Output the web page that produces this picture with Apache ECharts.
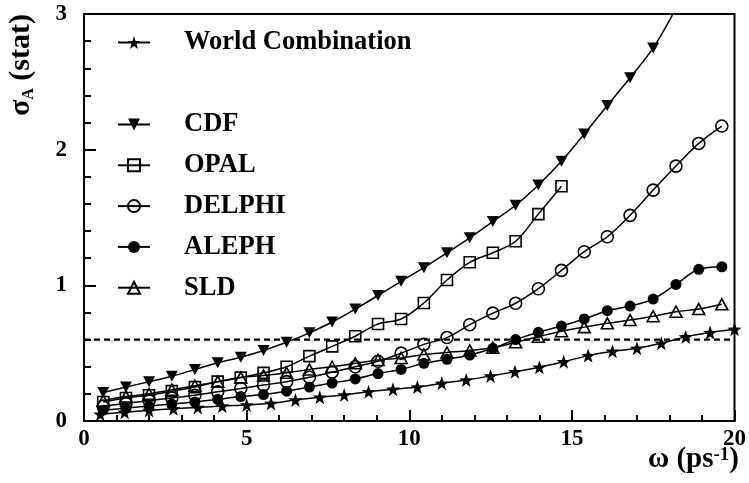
<!DOCTYPE html>
<html><head><meta charset="utf-8">
<script src="https://cdn.jsdelivr.net/npm/echarts@6/dist/echarts.min.js"></script>
<style>html,body{margin:0;padding:0;background:#fff}#c{width:749px;height:483px}</style>
</head><body><div id="c"></div>
<script>
const omega = [0.59, 1.29, 2.0, 2.7, 3.41, 4.11, 4.82, 5.52, 6.23, 6.93, 7.63, 8.34, 9.04, 9.75, 10.45, 11.16, 11.86, 12.57, 13.27, 13.97, 14.68, 15.38, 16.09, 16.79, 17.5, 18.2, 18.9, 19.61];
const omegaWorld = [0.5, 1.25, 2.0, 2.75, 3.5, 4.25, 5.0, 5.75, 6.5, 7.25, 8.0, 8.75, 9.5, 10.25, 11.0, 11.75, 12.5, 13.25, 14.0, 14.75, 15.5, 16.25, 17.0, 17.75, 18.5, 19.25, 20.0];
const worldSigma = [0.05, 0.065, 0.078, 0.09, 0.10, 0.11, 0.118, 0.13, 0.155, 0.175, 0.192, 0.216, 0.234, 0.25, 0.278, 0.302, 0.332, 0.363, 0.396, 0.437, 0.482, 0.514, 0.536, 0.573, 0.62, 0.652, 0.676];
const cdfSigma = [0.21, 0.25, 0.29, 0.33, 0.38, 0.43, 0.47, 0.52, 0.58, 0.65, 0.73, 0.825, 0.925, 1.03, 1.13, 1.24, 1.35, 1.47, 1.59, 1.74, 1.915, 2.115, 2.325, 2.53, 2.75, 3.04, 3.35];
const opalSigma = [0.14, 0.17, 0.19, 0.22, 0.25, 0.29, 0.32, 0.355, 0.40, 0.478, 0.55, 0.625, 0.715, 0.752, 0.87, 1.039, 1.17, 1.24, 1.325, 1.525, 1.73];
const delphiSigma = [0.11, 0.13, 0.15, 0.17, 0.19, 0.215, 0.24, 0.265, 0.29, 0.322, 0.36, 0.40, 0.44, 0.50, 0.565, 0.615, 0.71, 0.795, 0.868, 0.975, 1.11, 1.248, 1.358, 1.516, 1.702, 1.879, 2.046, 2.174];
const alephSigma = [0.08, 0.095, 0.11, 0.125, 0.14, 0.16, 0.18, 0.195, 0.22, 0.25, 0.28, 0.31, 0.35, 0.38, 0.425, 0.455, 0.486, 0.536, 0.60, 0.654, 0.70, 0.752, 0.813, 0.847, 0.899, 1.007, 1.118, 1.137];
const sldSigma = [0.15, 0.18, 0.20, 0.23, 0.26, 0.29, 0.32, 0.335, 0.355, 0.38, 0.40, 0.425, 0.45, 0.465, 0.49, 0.505, 0.52, 0.54, 0.58, 0.621, 0.662, 0.692, 0.72, 0.744, 0.772, 0.806, 0.825, 0.86];
const xTickLabels = ['0', '5', '10', '15', '20'];
const yTickLabels = ['0', '1', '2', '3'];
const thresholdRange = [0, 20];
const thresholdLevel = 0.6;
const seriesNames = ['World Combination', 'CDF', 'OPAL', 'DELPHI', 'ALEPH', 'SLD'];

const FONT = "'Liberation Serif', 'Times New Roman', serif";
const STAR = 'path://M0,-10 L2.35,-3.24 L9.51,-3.09 L3.8,1.24 L5.88,8.09 L0,4 L-5.88,8.09 L-3.8,1.24 L-9.51,-3.09 L-2.35,-3.24 Z';
const zip = (xs, ys) => ys.map((y, i) => [xs[i], y]);

function mk(name, xs, ys, symbol, size, filled, rotate) {
  return {
    name, type: 'line', data: zip(xs, ys), smooth: 0.35,
    symbol, symbolSize: size, symbolRotate: rotate || 0, showAllSymbol: true,
    lineStyle: {color: '#000', width: 1.5},
    itemStyle: {color: filled ? '#000' : 'rgba(0,0,0,0)', borderColor: '#000', borderWidth: filled ? 0 : 1.6},
    emphasis: {disabled: true}, z: 3
  };
}

const chart = echarts.init(document.getElementById('c'));
const legendText = {fontFamily: FONT, fontWeight: 'bold', fontSize: 26.5, lineHeight: 26, color: '#000', padding: [0, 0, 0, 29]};
chart.setOption({
  animation: false,
  backgroundColor: '#fff',
  grid: {left: 84, right: 12, top: 14, bottom: 62, show: true, borderColor: '#000', borderWidth: 2, backgroundColor: 'rgba(0,0,0,0)'},
  xAxis: {
    type: 'value', min: 0, max: 20, interval: 5,
    axisLine: {lineStyle: {color: '#000', width: 2}},
    axisTick: {inside: true, length: 11, lineStyle: {color: '#000', width: 2}},
    minorTick: {show: true, splitNumber: 5, length: 6, lineStyle: {color: '#000', width: 2}},
    splitLine: {show: false},
    axisLabel: {margin: 7, fontFamily: FONT, fontWeight: 'bold', fontSize: 23, color: '#000',
      formatter: v => xTickLabels[Math.round(v / 5)]}
  },
  yAxis: {
    type: 'value', min: 0, max: 3, interval: 1,
    axisLine: {show: true, lineStyle: {color: '#000', width: 2}},
    axisTick: {show: true, inside: true, length: 12, lineStyle: {color: '#000', width: 2}},
    minorTick: {show: true, splitNumber: 5, length: 7, lineStyle: {color: '#000', width: 2}},
    splitLine: {show: false},
    axisLabel: {margin: 17, fontFamily: FONT, fontWeight: 'bold', fontSize: 23, color: '#000',
      formatter: v => yTickLabels[Math.round(v)]}
  },
  legend: [
    {data: [seriesNames[0]], left: 117, top: 29, padding: 0, itemWidth: 32, itemHeight: 16,
      textStyle: legendText, selectedMode: false},
    {data: seriesNames.slice(1), orient: 'vertical', left: 117, top: 111, padding: 0, itemGap: 13.8,
      itemWidth: 32, itemHeight: 15, textStyle: legendText, selectedMode: false}
  ],
  graphic: [
    {type: 'text', x: 21, y: 65, rotation: Math.PI / 2,
      style: {text: '{m|σ}{s|A}{m| (stat)}', align: 'center', verticalAlign: 'middle',
        rich: {
          m: {fontFamily: FONT, fontWeight: 'bold', fontSize: 30, lineHeight: 30, verticalAlign: 'top', fill: '#000'},
          s: {fontFamily: FONT, fontWeight: 'bold', fontSize: 16, lineHeight: 16, padding: [15, 0, 0, 0], verticalAlign: 'top', fill: '#000'}
        }}},
    {type: 'text', x: 739, y: 460,
      style: {text: '{m|ω (ps}{s|-1}{m|)}', align: 'right', verticalAlign: 'middle',
        rich: {
          m: {fontFamily: FONT, fontWeight: 'bold', fontSize: 29, lineHeight: 29, verticalAlign: 'bottom', fill: '#000'},
          s: {fontFamily: FONT, fontWeight: 'bold', fontSize: 19, lineHeight: 19, padding: [0, 0, 17, 0], verticalAlign: 'top', fill: '#000'}
        }}}
  ],
  series: [
    {name: 'threshold', type: 'line', data: thresholdRange.map(x => [x, thresholdLevel]), symbol: 'none',
      lineStyle: {color: '#000', width: 2.2, type: [6, 4]}, silent: true, z: 2},
    mk(seriesNames[0], omegaWorld, worldSigma, STAR, 14, true),
    mk(seriesNames[1], omega, cdfSigma, 'triangle', [12, 11], true, 180),
    mk(seriesNames[2], omega, opalSigma, 'rect', 11, false),
    mk(seriesNames[3], omega, delphiSigma, 'circle', 12, false),
    mk(seriesNames[4], omega, alephSigma, 'circle', 11, true),
    mk(seriesNames[5], omega, sldSigma, 'triangle', [12, 11], false)
  ]
});
</script></body></html>
